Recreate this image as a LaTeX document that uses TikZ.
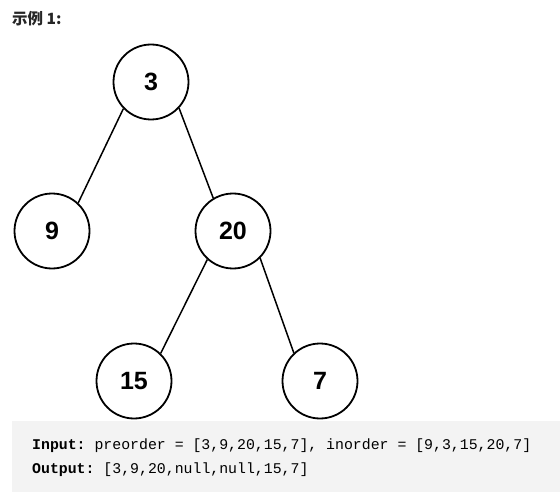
\documentclass[tikz,border=0pt]{standalone}
\usepackage{fontspec}
\setmainfont{Liberation Sans}
\setmonofont{Liberation Mono}
\newfontfamily\cjk{Noto Sans CJK SC}
\usepackage{tikz}
\usetikzlibrary{positioning}

\definecolor{codebg}{HTML}{F3F3F3}
\definecolor{titlecol}{HTML}{262626}

\begin{document}
\begin{tikzpicture}[x=1pt, y=-1pt,
    treenode/.style={draw, circle, line width=1.8pt, minimum size=75pt, inner sep=0pt, font=\fontsize{25}{28}\selectfont\bfseries},
    edge/.style={line width=1.5pt},
    codeline/.style={anchor=west, inner sep=0pt, font=\fontsize{14.85}{17}\selectfont\ttfamily}]
    \useasboundingbox (0,0) rectangle (560,492);
    \fill[codebg] (12,421) rectangle (560,492);

    \node[anchor=west, inner sep=0pt, text=titlecol, font=\cjk\fontsize{15.5}{18}\selectfont\bfseries] (title) at (12,19) {示例 1:};

    \node[treenode] (n3)  at (151,82)  {3};
    \node[treenode] (n9)  at (52,231)  {9};
    \node[treenode] (n20) at (233,231) {20};
    \node[treenode] (n15) at (134,381) {15};
    \node[treenode] (n7)  at (320,381) {7};
    \draw[edge] (n3.224) -- (n9.47);
    \draw[edge] (n3.317) -- (n20.121);
    \draw[edge] (n20.228) -- (n15.46);
    \draw[edge] (n20.315) -- (n7.133);

    \node[codeline] (inp) at (32,446) {\textbf{Input:} preorder = [3,9,20,15,7], inorder = [9,3,15,20,7]};
    \node[codeline] (outp) at (32,470) {\textbf{Output:} [3,9,20,null,null,15,7]};
  \end{tikzpicture}
\end{document}
